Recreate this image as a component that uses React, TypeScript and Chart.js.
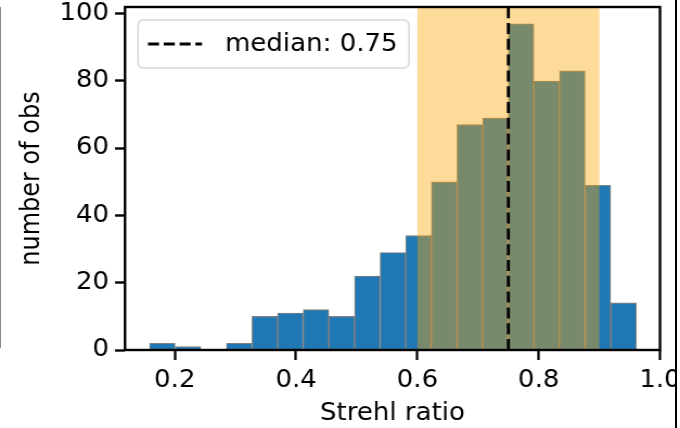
import React, { useEffect, useRef } from "react";
import { Chart, registerables } from "chart.js";

Chart.register(...registerables);

// ---- data ----
const binEdges = [
  0.1584, 0.2006, 0.2429, 0.2851, 0.3274, 0.3696, 0.4118, 0.4541, 0.4963, 0.5386,
  0.5808, 0.623, 0.6653, 0.7075, 0.7498, 0.792, 0.8342, 0.8765, 0.9187, 0.961,
];
const counts = [2, 1, 0, 2, 10, 11, 12, 10, 22, 29, 34, 50, 67, 69, 97, 80, 83, 49, 14];
const medianValue = 0.75;
const spanRange = [0.6, 0.9];
const xTicks = [0.2, 0.4, 0.6, 0.8, 1.0];
const yTicks = [0, 20, 40, 60, 80, 100];
const xRange = [0.118, 1.0];
const yRange = [0, 102];
const xTitle = "Strehl ratio";
const yTitle = "number of obs";

// The reference is slightly stretched horizontally: draw on a narrower canvas and stretch it.
const PAGE_W = 680;
const PAGE_H = 428;
const CANVAS_W = 627;
const SX = PAGE_W / CANVAS_W;

const FONT = "DejaVu Sans";
const FS = 24;

const spanPlugin = {
  id: "span",
  afterDatasetDraw(chart: any, args: any) {
    if (args.index !== 0) return;
    const { ctx, chartArea, scales } = chart;
    const x0 = scales.x.getPixelForValue(spanRange[0]);
    const x1 = scales.x.getPixelForValue(spanRange[1]);
    ctx.save();
    ctx.fillStyle = "rgba(255,165,0,0.4)";
    ctx.fillRect(x0, chartArea.top, x1 - x0, chartArea.bottom - chartArea.top);
    ctx.restore();
  },
};

const framePlugin = {
  id: "frame",
  afterDatasetsDraw(chart: any) {
    const { ctx, chartArea } = chart;
    ctx.save();
    ctx.strokeStyle = "#000";
    ctx.lineWidth = 2.4;
    ctx.strokeRect(chartArea.left, chartArea.top, chartArea.right - chartArea.left, chartArea.bottom - chartArea.top);
    ctx.restore();
  },
};

const legendPlugin = {
  id: "mplLegend",
  afterDraw(chart: any) {
    const { ctx, chartArea } = chart;
    const ds = chart.data.datasets[1];
    const bx = chartArea.left + 13 / SX;
    const by = chartArea.top + 13;
    const bw = 271 / SX;
    const bh = 48;
    const r = 5;
    ctx.save();
    ctx.beginPath();
    ctx.moveTo(bx + r, by);
    ctx.arcTo(bx + bw, by, bx + bw, by + bh, r);
    ctx.arcTo(bx + bw, by + bh, bx, by + bh, r);
    ctx.arcTo(bx, by + bh, bx, by, r);
    ctx.arcTo(bx, by, bx + bw, by, r);
    ctx.closePath();
    ctx.fillStyle = "rgba(255,255,255,0.8)";
    ctx.fill();
    ctx.strokeStyle = "#d6d6d6";
    ctx.lineWidth = 1.5;
    ctx.stroke();
    const cy = by + bh / 2;
    ctx.beginPath();
    ctx.setLineDash(ds.borderDash.map((d: number) => d / SX));
    ctx.strokeStyle = ds.borderColor;
    ctx.lineWidth = ds.borderWidth;
    ctx.moveTo(bx + 10 / SX, cy);
    ctx.lineTo(bx + 64 / SX, cy);
    ctx.stroke();
    ctx.setLineDash([]);
    ctx.fillStyle = "#000";
    ctx.font = `${FS}px "${FONT}"`;
    ctx.textBaseline = "middle";
    ctx.textAlign = "left";
    ctx.fillText(ds.label, bx + 87 / SX, cy + 1);
    ctx.restore();
  },
};

export default function App() {
  const ref = useRef<HTMLCanvasElement | null>(null);

  useEffect(() => {
    if (!ref.current) return;
    const barData = counts.map((c, i) => ({ x: (binEdges[i] + binEdges[i + 1]) / 2, y: c }));
    const chart = new Chart(ref.current, {
      type: "bar",
      data: {
        datasets: [
          {
            type: "bar",
            label: "counts",
            data: barData as any,
            backgroundColor: "#1f77b4",
            borderColor: "#808080",
            borderWidth: 1.1,
            barPercentage: 1,
            categoryPercentage: 1,
            order: 1,
          } as any,
          {
            type: "line",
            label: `median: ${medianValue}`,
            data: [
              { x: medianValue, y: yRange[0] },
              { x: medianValue, y: yRange[1] },
            ],
            borderColor: "#000",
            borderWidth: 2.8,
            borderDash: [11, 4.8],
            pointRadius: 0,
            order: 0,
          } as any,
        ],
      },
      options: {
        animation: false,
        responsive: false,
        devicePixelRatio: 1,
        layout: { padding: { top: 7, right: CANVAS_W - 660 / SX, left: 0, bottom: 0 } },
        plugins: {
          legend: { display: false },
          tooltip: { enabled: false },
        },
        scales: {
          x: {
            type: "linear",
            min: xRange[0],
            max: xRange[1],
            offset: false,
            afterBuildTicks: (s: any) => {
              s.ticks = xTicks.map((v) => ({ value: v }));
            },
            afterFit: (s: any) => {
              s.height = 78;
              s.paddingLeft = 0;
              s.paddingRight = 0;
            },
            grid: {
              offset: false,
              drawOnChartArea: false,
              drawTicks: true,
              tickLength: 10,
              tickColor: "#000",
              tickWidth: 2.3,
            },
            border: { display: false },
            ticks: {
              color: "#000",
              font: { family: FONT, size: FS },
              padding: 6,
              maxRotation: 0,
              autoSkip: false,
              callback: (v: any) => Number(v).toFixed(1),
            },
            title: {
              display: true,
              text: xTitle,
              color: "#000",
              font: { family: FONT, size: FS },
              padding: { top: 0, bottom: 0 },
            },
          },
          y: {
            type: "linear",
            min: yRange[0],
            max: yRange[1],
            afterBuildTicks: (s: any) => {
              s.ticks = yTicks.map((v) => ({ value: v }));
            },
            afterFit: (s: any) => {
              s.width = 125 / SX;
              s.paddingTop = 0;
              s.paddingBottom = 0;
            },
            grid: {
              drawOnChartArea: false,
              drawTicks: true,
              tickLength: 10 / SX,
              tickColor: "#000",
              tickWidth: 2.4,
            },
            border: { display: false },
            ticks: {
              color: "#000",
              font: { family: FONT, size: FS },
              padding: 6 / SX,
              autoSkip: false,
              callback: (v: any) => String(v),
            },
            title: {
              display: true,
              text: yTitle,
              color: "#000",
              font: { family: FONT, size: FS },
              padding: { top: 15, bottom: 0 },
            },
          },
        },
      },
      plugins: [spanPlugin, framePlugin, legendPlugin],
    });
    return () => chart.destroy();
  }, []);

  return (
    <div style={{ position: "fixed", left: 0, top: 0, width: PAGE_W, height: PAGE_H, background: "#fff", overflow: "hidden" }}>
      <canvas
        ref={ref}
        width={CANVAS_W}
        height={PAGE_H}
        style={{ width: PAGE_W, height: PAGE_H, display: "block" }}
      />
      <div style={{ position: "absolute", left: 0, top: 7, width: 1, height: 341, background: "#8a8a8a" }} />
      <div
        style={{
          position: "absolute",
          left: 675,
          top: 0,
          width: 5,
          height: PAGE_H,
          background: "#fff",
          borderLeft: "2px solid #000",
          boxSizing: "border-box",
        }}
      />
    </div>
  );
}
